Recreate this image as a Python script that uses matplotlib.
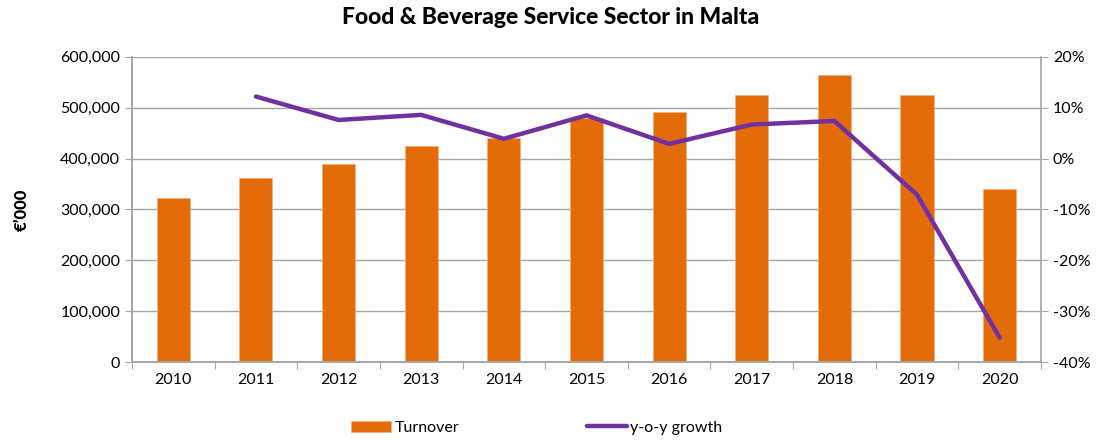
import matplotlib
matplotlib.use("Agg")
import matplotlib.pyplot as plt
from matplotlib.ticker import FuncFormatter, MultipleLocator

plt.rcParams['font.family'] = ['Lato', 'DejaVu Sans']

years = ["2010", "2011", "2012", "2013", "2014", "2015",
         "2016", "2017", "2018", "2019", "2020"]
turnover = [323000, 362000, 390000, 424000, 440000, 479000,
            492000, 525000, 565000, 525000, 341000]
growth_years = years[1:]
growth = [12.2, 7.6, 8.6, 3.9, 8.5, 2.9, 6.7, 7.4, -7.1, -35.2]

BAR = "#E36C09"
LINE = "#7030A0"
GRID = "#A6A6A6"

fig = plt.figure(figsize=(11.02, 4.41), dpi=100)
ax = fig.add_axes([0.1198, 0.179, 0.8248, 0.692])
ax2 = ax.twinx()

xs = list(range(len(years)))
ax.bar(xs, turnover, width=0.4, color=BAR, edgecolor="#F4B183",
       linewidth=0.6, label="Turnover", zorder=2)
gx = [years.index(y) for y in growth_years]
ax2.plot(gx, growth, color=LINE, linewidth=3.2, solid_capstyle="round",
         label="y-o-y growth", zorder=3)

ax.set_xlim(-0.5, len(years) - 0.5)
ax.set_ylim(0, 600000)
ax.yaxis.set_major_locator(MultipleLocator(100000))
ax.yaxis.set_major_formatter(FuncFormatter(lambda v, p: f"{v:,.0f}"))
ax2.set_ylim(-40, 20)
ax2.yaxis.set_major_locator(MultipleLocator(10))
ax2.yaxis.set_major_formatter(FuncFormatter(lambda v, p: f"{v:.0f}%"))

# category boundaries carry the tick marks, labels sit at the centres
ax.set_xticks([x - 0.5 for x in range(len(years) + 1)], minor=False)
ax.set_xticklabels([])
ax.set_xticks(xs, minor=True)
ax.set_xticklabels(years, minor=True)
ax.tick_params(axis="x", which="minor", length=0, labelsize=11.5, pad=8)
ax.tick_params(axis="x", which="major", length=5, color=GRID, direction="out")
ax.tick_params(axis="y", length=5, color=GRID, labelsize=11.5)
ax2.tick_params(axis="y", length=5, color=GRID, labelsize=11.5)

ax.grid(axis="y", color=GRID, linewidth=1, zorder=0)
ax.set_axisbelow(True)
for a in (ax, ax2):
    a.spines["top"].set_visible(False)
    for side in ("left", "right", "bottom"):
        a.spines[side].set_color(GRID)
        a.spines[side].set_linewidth(1.2)
ax.spines["right"].set_visible(False)

ax.set_ylabel("€\u2019000", fontsize=12, fontweight=900, labelpad=22)
fig.suptitle("Food & Beverage Service Sector in Malta", fontsize=16.5,
             fontweight=900, y=0.985)

h1, l1 = ax.get_legend_handles_labels()
h2, l2 = ax2.get_legend_handles_labels()
fig.legend(h1 + h2, l1 + l2, loc="center", bbox_to_anchor=(0.487, 0.03),
           ncol=2, frameon=False, fontsize=11.5, handlelength=2.5,
           handletextpad=0.2, columnspacing=8.0)

fig.savefig("out.png", dpi=100)
